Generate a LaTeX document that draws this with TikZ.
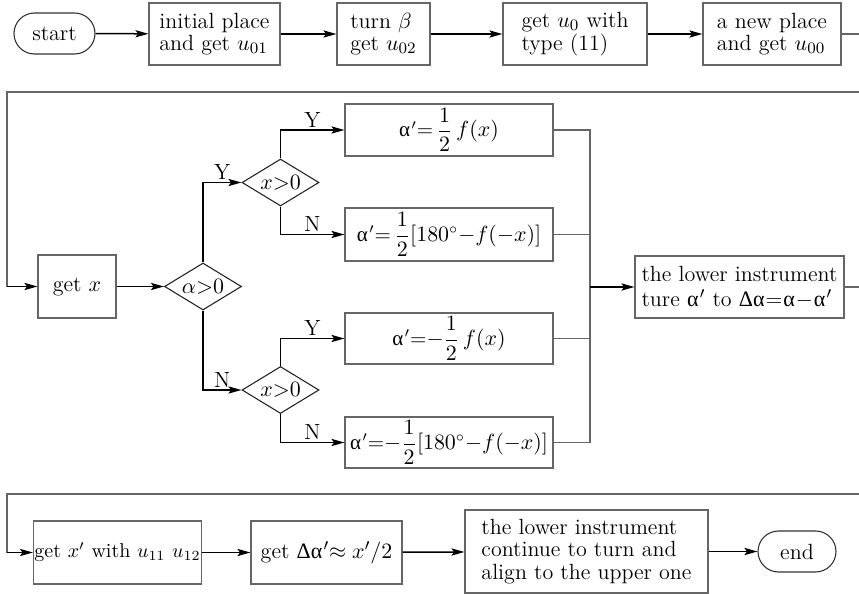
\documentclass[tikz,border=0pt]{standalone}
\usepackage{amsmath}
\usepackage{fontspec}
\usetikzlibrary{shapes.geometric,shapes.misc,arrows.meta}
\newfontfamily\grk{Liberation Serif}
\newcommand{\ua}{{\grk α}}
\newcommand{\uD}{{\grk Δ}}
\newcommand{\upr}{\kern0.6pt$'$}
\begin{document}
\begin{tikzpicture}[x=0.5pt,y=-0.5pt,
  font=\fontsize{11}{11.3}\selectfont,
  box/.style={draw=black!60, line width=0.55pt, inner xsep=2pt, inner ysep=1pt, align=left},
  term/.style={draw=black!80, line width=0.55pt, rounded rectangle, inner sep=1pt},
  dia/.style={draw=black!85, line width=0.55pt, diamond, inner sep=0pt, minimum width=38.5pt, minimum height=23.5pt, shape aspect=1.64},
  arr/.style={draw=black, line width=0.75pt, -{Stealth[length=6.5pt,width=3.6pt,inset=1.3pt]}},
  gl/.style={draw=black!60, line width=0.55pt},
  lab/.style={font=\fontsize{11}{11}\selectfont, inner sep=1pt},
  mid/.style={font=\fontsize{10.5}{11}\selectfont}]
\useasboundingbox (0,0) rectangle (859,594);
% top row
\node[term, minimum width=42.5pt, minimum height=20.5pt] (start) at (54.5,33.5) {start};
\node[box, minimum width=65.5pt, minimum height=31pt] (n1) at (214.5,34) {initial place\\and get $u_{01}$};
\node[box, minimum width=46.5pt, minimum height=31pt] (n2) at (383.5,34) {turn $\beta$\\get $u_{02}$};
\node[box, minimum width=72pt, minimum height=31pt] (n3) at (575,34) {get $u_0$ with\\type (11)};
\node[box, minimum width=69pt, minimum height=31pt] (n4) at (772,34) {a new place\\and get $u_{00}$};
\coordinate (r1) at (859,34);
\draw[arr] (start) -- (n1);
\draw[arr] (n1) -- (n2);
\draw[arr] (n2) -- (n3);
\draw[arr] (n3) -- (n4);
\draw[gl] (n4.east) -- (r1);
% middle
\node[box, minimum width=39pt, minimum height=31.5pt, align=center] (getx) at (77,286.5) {get $x$};
\node[dia] (d1) at (203,286.5) {$\alpha{>}0$};
\node[dia] (d2) at (280.5,182.5) {$x{>}0$};
\node[dia] (d3) at (280.5,390) {$x{>}0$};
\node[box, mid, minimum width=104pt, minimum height=26pt, align=center] (b1) at (449,130) {\ua\upr=\,$\dfrac{1}{2}\,f(x)$};
\node[box, mid, minimum width=104pt, minimum height=26.5pt, align=center] (b2) at (449,234.5) {\ua\upr=\,$\dfrac{1}{2}[180^\circ{-}f(-x)]$};
\node[box, mid, minimum width=104pt, minimum height=25.5pt, align=center] (b3) at (449,338.5) {\ua\upr=$-\dfrac{1}{2}\,f(x)$};
\node[box, mid, minimum width=104pt, minimum height=25.5pt, align=center] (b4) at (449,442.5) {\ua\upr=$-\dfrac{1}{2}[180^\circ{-}f(-x)]$};
\node[box, font=\fontsize{11}{12.6}\selectfont, inner xsep=1.5pt, minimum width=104.5pt, minimum height=31pt] (li) at (739.5,287) {the lower instrument\\ture \ua\upr{} to \uD\ua\kern0.5pt=\kern0.5pt\ua\kern0.5pt$-$\kern0.5pt\ua\upr};
\coordinate (t1) at (859,92);
\coordinate (t2) at (7,92);
\coordinate (t3) at (7,286.5);
\draw[gl] (t1) -- (t2) -- (t3);
\draw[arr] (t3) -- (getx);
\draw[arr] (getx) -- (d1);
\draw[arr] (d1.north) |- (d2.west) node[lab, pos=0.75, above] {Y};
\draw[arr] (d1.south) |- (d3.west) node[lab, pos=0.75, above] {N};
\draw[arr] (d2.north) |- (b1.west) node[lab, pos=0.75, above] {Y};
\draw[arr] (d2.south) |- (b2.west) node[lab, pos=0.75, above] {N};
\draw[arr] (d3.north) |- (b3.west) node[lab, pos=0.75, above] {Y};
\draw[arr] (d3.south) |- (b4.west) node[lab, pos=0.75, above] {N};
\coordinate (c1) at (590,130);
\coordinate (c4) at (590,442.5);
\draw[gl] (b1.east) -- (c1) -- (c4) -- (b4.east);
\draw[gl] (b2.east) -- (b2.east -| c1);
\draw[gl] (b3.east) -- (b3.east -| c1);
\draw[arr] (li.west -| c1) -- (li.west);
\coordinate (r2) at (859,287);
\draw[gl] (li.east) -- (r2);
% bottom row
\node[box, font=\fontsize{10}{11}\selectfont, minimum width=81.5pt, minimum height=31.5pt, align=center, inner xsep=0.5pt] (gx) at (117.5,552.5) {get $x'$ with $u_{11}$ $u_{12}$};
\node[box, minimum width=75.5pt, minimum height=31.5pt, align=center] (gd) at (326.5,552.5) {get \uD\ua\upr{}$\approx x'/2$};
\node[box, minimum width=121.5pt, minimum height=41.5pt] (l2) at (586.5,551.5) {the lower instrument\\continue to turn and\\align to the upper one};
\node[term, minimum width=41pt, minimum height=20.5pt] (end) at (797,551.5) {end};
\coordinate (u1) at (859,494);
\coordinate (u2) at (7,494);
\coordinate (u3) at (7,552.5);
\draw[gl] (u1) -- (u2) -- (u3);
\draw[arr] (u3) -- (gx);
\draw[arr] (gx) -- (gd);
\draw[arr] (gd) -- (l2);
\draw[arr] (l2) -- (end);
\end{tikzpicture}
\end{document}
